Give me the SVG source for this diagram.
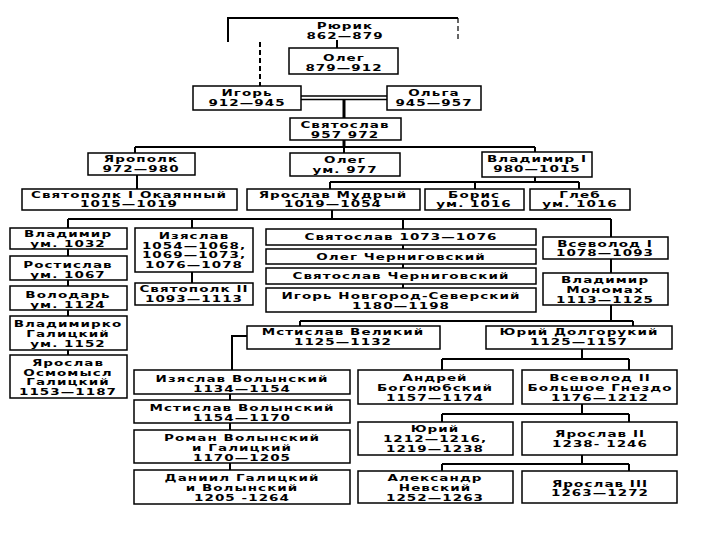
<svg xmlns="http://www.w3.org/2000/svg" width="720" height="540" viewBox="0 0 720 540">
<style>
.b{fill:#fff;stroke:#000;stroke-width:1.5}
.t{font-family:"DejaVu Sans","Liberation Sans",sans-serif;font-weight:bold;font-size:9px;letter-spacing:0.7px;text-anchor:middle;fill:#000}
.c{fill:none;stroke:#000;stroke-width:2}
.k{fill:none;stroke:#000;stroke-width:3}
.d{fill:none;stroke:#000;stroke-width:2;stroke-dasharray:5 3}
</style>
<rect width="720" height="540" fill="#fff"/>
<g id="connectors">
<path class="c" d="M228,42 V18 H458"/>
<path class="d" d="M458,18 V40" style="stroke-width:1.2"/>
<path class="d" d="M260,42 V86"/>
<path class="c" d="M337,40 V48"/>
<path class="c" d="M301,96 H387 M301,99.5 H387" style="stroke-width:1.5"/>
<path class="k" d="M344,99 V118 M344,140 V147"/>
<path class="c" d="M135,147 H535 M135,147 V153 M344,147 V153 M535,147 V153"/>
<path class="c" d="M137,175 V189"/>
<path class="c" d="M535,177 V182 M330,182 H579 M330,182 V189 M475,182 V189 M579,182 V189"/>
<path class="c" d="M332,210 V219 M68,219 H611 M68,219 V228 M192,219 V228 M403,219 V229 M611,219 V237"/>
<path class="c" d="M68,249 V256 M68,280 V286 M68,310 V316 M68,350 V355"/>
<path class="c" d="M192,272 V283"/>
<path class="c" d="M403,245 V249 M403,264 V268 M403,284 V288"/>
<path class="c" d="M611,259 V273 M611,305 V321 M300,321 H633 M300,321 V326 M633,321 V326"/>
<path class="c" d="M247,336 H232 V370 M230,394 V400 M230,423 V430 M230,463 V470"/>
<path class="c" d="M582,349 V359 M442,359 H629 M442,359 V370 M629,359 V370"/>
<path class="c" d="M582,404 V414 M442,414 H629 M442,414 V422 M629,414 V422"/>
<path class="c" d="M582,455 V464 M442,464 H629 M442,464 V471 M629,464 V471"/>
</g>
<g id="rurik"><text class="t" transform="translate(345,0) scale(1.5,1)"><tspan x="0" y="29">Рюрик</tspan><tspan x="0" y="39">862—879</tspan></text></g>
<g id="oleg"><rect class="b" x="289" y="48" width="109" height="26"/><text class="t" transform="translate(344,0) scale(1.5,1)"><tspan x="0" y="61">Олег</tspan><tspan x="0" y="71">879—912</tspan></text></g>
<g id="igor"><rect class="b" x="193" y="86" width="108" height="24"/><text class="t" transform="translate(247,0) scale(1.5,1)"><tspan x="0" y="96">Игорь</tspan><tspan x="0" y="106">912—945</tspan></text></g>
<g id="olga"><rect class="b" x="387" y="86" width="94" height="24"/><text class="t" transform="translate(434,0) scale(1.5,1)"><tspan x="0" y="96">Ольга</tspan><tspan x="0" y="106">945—957</tspan></text></g>
<g id="svyatoslav"><rect class="b" x="290" y="118" width="111" height="22"/><text class="t" transform="translate(345,0) scale(1.5,1)"><tspan x="0" y="128">Святослав</tspan><tspan x="0" y="138">957 972</tspan></text></g>
<g id="yaropolk"><rect class="b" x="88" y="153" width="107" height="22"/><text class="t" transform="translate(141,0) scale(1.5,1)"><tspan x="0" y="162">Ярополк</tspan><tspan x="0" y="172">972—980</tspan></text></g>
<g id="oleg977"><rect class="b" x="290" y="153" width="110" height="23"/><text class="t" transform="translate(345,0) scale(1.5,1)"><tspan x="0" y="163">Олег</tspan><tspan x="0" y="173">ум. 977</tspan></text></g>
<g id="vladimir1"><rect class="b" x="482" y="152" width="110" height="25"/><text class="t" transform="translate(537,0) scale(1.5,1)"><tspan x="0" y="162">Владимир I</tspan><tspan x="0" y="172">980—1015</tspan></text></g>
<g id="svyatopolk1"><rect class="b" x="22" y="189" width="215" height="21"/><text class="t" transform="translate(129,0) scale(1.5,1)"><tspan x="0" y="198">Святополк I Окаянный</tspan><tspan x="0" y="207.5">1015—1019</tspan></text></g>
<g id="yaroslav-mudry"><rect class="b" x="247" y="189" width="173" height="21"/><text class="t" transform="translate(333,0) scale(1.5,1)"><tspan x="0" y="198">Ярослав Мудрый</tspan><tspan x="0" y="207.5">1019—1054</tspan></text></g>
<g id="boris"><rect class="b" x="425" y="189" width="99" height="21"/><text class="t" transform="translate(474,0) scale(1.5,1)"><tspan x="0" y="198">Борис</tspan><tspan x="0" y="207.5">ум. 1016</tspan></text></g>
<g id="gleb"><rect class="b" x="530" y="189" width="100" height="21"/><text class="t" transform="translate(580,0) scale(1.5,1)"><tspan x="0" y="198">Глеб</tspan><tspan x="0" y="207.5">ум. 1016</tspan></text></g>
<g id="vladimir1032"><rect class="b" x="10" y="228" width="117" height="21"/><text class="t" transform="translate(68,0) scale(1.5,1)"><tspan x="0" y="237.5">Владимир</tspan><tspan x="0" y="247">ум. 1032</tspan></text></g>
<g id="rostislav"><rect class="b" x="10" y="256" width="117" height="24"/><text class="t" transform="translate(68,0) scale(1.5,1)"><tspan x="0" y="268">Ростислав</tspan><tspan x="0" y="278">ум. 1067</tspan></text></g>
<g id="volodar"><rect class="b" x="10" y="286" width="117" height="24"/><text class="t" transform="translate(68,0) scale(1.5,1)"><tspan x="0" y="298">Володарь</tspan><tspan x="0" y="308">ум. 1124</tspan></text></g>
<g id="vladimirko"><rect class="b" x="10" y="316" width="117" height="34"/><text class="t" transform="translate(68,0) scale(1.5,1)"><tspan x="0" y="327">Владимирко</tspan><tspan x="0" y="337">Галицкий</tspan><tspan x="0" y="347">ум. 1152</tspan></text></g>
<g id="osmomysl"><rect class="b" x="10" y="355" width="117" height="43"/><text class="t" transform="translate(68,0) scale(1.5,1)"><tspan x="0" y="366">Ярослав</tspan><tspan x="0" y="376">Осмомысл</tspan><tspan x="0" y="385.5">Галицкий</tspan><tspan x="0" y="395">1153—1187</tspan></text></g>
<g id="izyaslav"><rect class="b" x="135" y="228" width="118" height="44"/><text class="t" transform="translate(194,0) scale(1.5,1)"><tspan x="0" y="239.5">Изяслав</tspan><tspan x="0" y="249">1054—1068,</tspan><tspan x="0" y="258.5">1069—1073,</tspan><tspan x="0" y="268">1076—1078</tspan></text></g>
<g id="svyatopolk2"><rect class="b" x="135" y="283" width="118" height="22"/><text class="t" transform="translate(194,0) scale(1.5,1)"><tspan x="0" y="292">Святополк II</tspan><tspan x="0" y="302">1093—1113</tspan></text></g>
<g id="svyatoslav1073"><rect class="b" x="266" y="229" width="270" height="16"/><text class="t" transform="translate(401,0) scale(1.5,1)"><tspan x="0" y="240.5">Святослав 1073—1076</tspan></text></g>
<g id="oleg-chern"><rect class="b" x="266" y="249" width="270" height="15"/><text class="t" transform="translate(401,0) scale(1.5,1)"><tspan x="0" y="260">Олег Черниговский</tspan></text></g>
<g id="svyatoslav-chern"><rect class="b" x="266" y="268" width="270" height="16"/><text class="t" transform="translate(401,0) scale(1.5,1)"><tspan x="0" y="279.5">Святослав Черниговский</tspan></text></g>
<g id="igor-ns"><rect class="b" x="266" y="288" width="270" height="24"/><text class="t" transform="translate(401,0) scale(1.5,1)"><tspan x="0" y="299">Игорь Новгород-Северский</tspan><tspan x="0" y="309">1180—1198</tspan></text></g>
<g id="vsevolod1"><rect class="b" x="543" y="237" width="125" height="22"/><text class="t" transform="translate(605,0) scale(1.5,1)"><tspan x="0" y="247">Всеволод I</tspan><tspan x="0" y="256.5">1078—1093</tspan></text></g>
<g id="monomakh"><rect class="b" x="543" y="273" width="125" height="32"/><text class="t" transform="translate(605,0) scale(1.5,1)"><tspan x="0" y="283">Владимир</tspan><tspan x="0" y="293">Мономах</tspan><tspan x="0" y="303">1113—1125</tspan></text></g>
<g id="mstislav-v"><rect class="b" x="247" y="326" width="193" height="23"/><text class="t" transform="translate(343,0) scale(1.5,1)"><tspan x="0" y="335.5">Мстислав Великий</tspan><tspan x="0" y="345.5">1125—1132</tspan></text></g>
<g id="yuri-d"><rect class="b" x="486" y="326" width="186" height="23"/><text class="t" transform="translate(579,0) scale(1.5,1)"><tspan x="0" y="335.5">Юрий Долгорукий</tspan><tspan x="0" y="345.5">1125—1157</tspan></text></g>
<g id="izyaslav-vol"><rect class="b" x="134" y="370" width="216" height="24"/><text class="t" transform="translate(242,0) scale(1.5,1)"><tspan x="0" y="382">Изяслав Волынский</tspan><tspan x="0" y="392">1134—1154</tspan></text></g>
<g id="mstislav-vol"><rect class="b" x="134" y="400" width="216" height="23"/><text class="t" transform="translate(242,0) scale(1.5,1)"><tspan x="0" y="411">Мстислав Волынский</tspan><tspan x="0" y="421">1154—1170</tspan></text></g>
<g id="roman"><rect class="b" x="134" y="430" width="216" height="33"/><text class="t" transform="translate(242,0) scale(1.5,1)"><tspan x="0" y="441">Роман Волынский</tspan><tspan x="0" y="451">и Галицкий</tspan><tspan x="0" y="461">1170—1205</tspan></text></g>
<g id="daniil"><rect class="b" x="134" y="470" width="216" height="34"/><text class="t" transform="translate(242,0) scale(1.5,1)"><tspan x="0" y="481.5">Даниил Галицкий</tspan><tspan x="0" y="491.5">и Волынский</tspan><tspan x="0" y="501.5">1205 -1264</tspan></text></g>
<g id="andrey"><rect class="b" x="358" y="370" width="155" height="34"/><text class="t" transform="translate(435,0) scale(1.5,1)"><tspan x="0" y="381.5">Андрей</tspan><tspan x="0" y="391.5">Боголюбский</tspan><tspan x="0" y="401.5">1157—1174</tspan></text></g>
<g id="vsevolod2"><rect class="b" x="522" y="370" width="155" height="34"/><text class="t" transform="translate(600,0) scale(1.5,1)"><tspan x="0" y="381.5">Всеволод II</tspan><tspan x="0" y="391.5">Большое Гнездо</tspan><tspan x="0" y="401.5">1176—1212</tspan></text></g>
<g id="yuri1212"><rect class="b" x="358" y="422" width="155" height="33"/><text class="t" transform="translate(435,0) scale(1.5,1)"><tspan x="0" y="432.5">Юрий</tspan><tspan x="0" y="442.5">1212—1216,</tspan><tspan x="0" y="452.5">1219—1238</tspan></text></g>
<g id="yaroslav2"><rect class="b" x="522" y="422" width="155" height="33"/><text class="t" transform="translate(600,0) scale(1.5,1)"><tspan x="0" y="437">Ярослав II</tspan><tspan x="0" y="447">1238- 1246</tspan></text></g>
<g id="alexander"><rect class="b" x="358" y="471" width="155" height="32"/><text class="t" transform="translate(435,0) scale(1.5,1)"><tspan x="0" y="481">Александр</tspan><tspan x="0" y="491">Невский</tspan><tspan x="0" y="501">1252—1263</tspan></text></g>
<g id="yaroslav3"><rect class="b" x="522" y="471" width="155" height="32"/><text class="t" transform="translate(600,0) scale(1.5,1)"><tspan x="0" y="487">Ярослав III</tspan><tspan x="0" y="496.5">1263—1272</tspan></text></g>
</svg>
